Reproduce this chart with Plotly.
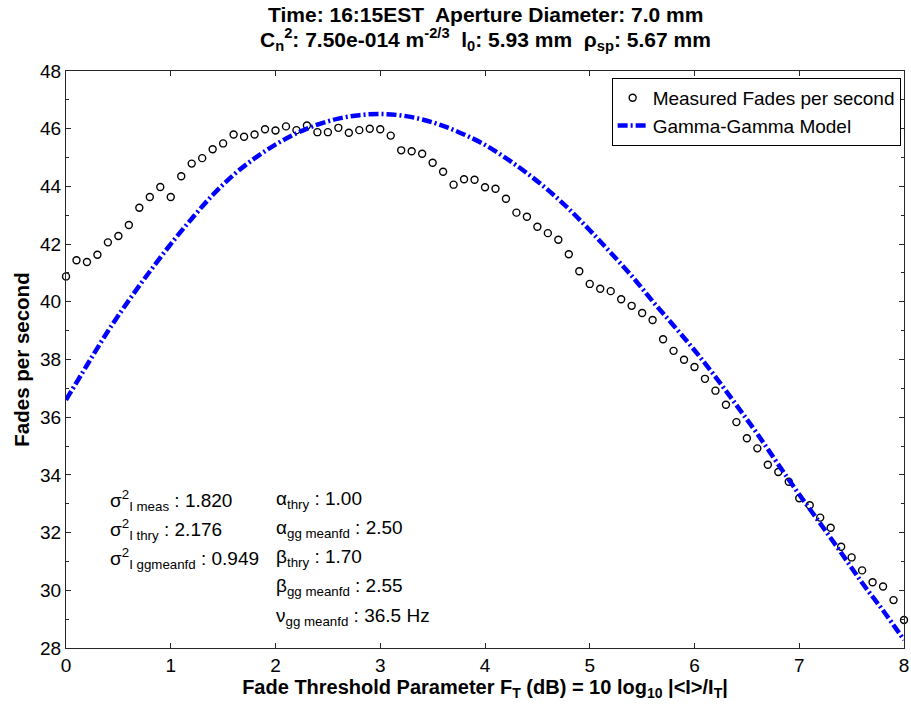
import plotly.graph_objects as go

# Measured fade rate, sampled every 0.1 dB of fade threshold
threshold_db = [round(0.1 * i, 1) for i in range(81)]
measured_fades = [
    40.88, 41.44, 41.38, 41.63, 42.06, 42.28, 42.66, 43.26, 43.63, 43.98,
    43.63, 44.35, 44.79, 44.98, 45.29, 45.49, 45.80, 45.72, 45.80, 45.98,
    45.94, 46.08, 45.95, 46.11, 45.88, 45.88, 46.03, 45.86, 45.95, 46.00,
    45.98, 45.76, 45.25, 45.22, 45.13, 44.82, 44.51, 44.06, 44.25, 44.23,
    43.97, 43.92, 43.57, 43.09, 42.95, 42.60, 42.38, 42.15, 41.65, 41.06,
    40.62, 40.45, 40.37, 40.09, 39.86, 39.61, 39.37, 38.70, 38.30, 37.99,
    37.74, 37.33, 36.92, 36.43, 35.83, 35.27, 34.92, 34.35, 34.10, 33.76,
    33.19, 32.95, 32.52, 32.17, 31.51, 31.14, 30.69, 30.28, 30.13, 29.66,
    28.97,
]

# Gamma-Gamma model curve, every 0.2 dB
model_db = [round(0.2 * i, 1) for i in range(41)]
model_fades = [
    36.60, 37.80, 38.98, 40.05, 41.05, 42.00, 42.88, 43.70, 44.40, 44.97,
    45.45, 45.84, 46.14, 46.35, 46.47, 46.51, 46.46, 46.32, 46.10, 45.80,
    45.44, 44.98, 44.46, 43.88, 43.22, 42.48, 41.70, 40.90, 40.02, 39.18,
    38.32, 37.40, 36.42, 35.42, 34.36, 33.32, 32.32, 31.30, 30.26, 29.30,
    28.28,
]

x_ticks = [0, 1, 2, 3, 4, 5, 6, 7, 8]
y_ticks = [28, 30, 32, 34, 36, 38, 40, 42, 44, 46, 48]

title_lines = [
    "Time: 16:15EST  Aperture Diameter: 7.0 mm",
    "C<sub>n</sub><sup>2</sup>: 7.50e-014 m<sup>-2/3</sup>  "
    "l<sub>0</sub>: 5.93 mm  ρ<sub>sp</sub>: 5.67 mm",
]

# Fit parameters shown in the lower-left corner
left_stats = [
    ("σ<sup>2</sup><sub>I meas</sub>", "1.820"),
    ("σ<sup>2</sup><sub>I thry</sub>", "2.176"),
    ("σ<sup>2</sup><sub>I ggmeanfd</sub>", "0.949"),
]
right_stats = [
    ("α<sub>thry</sub>", "1.00"),
    ("α<sub>gg meanfd</sub>", "2.50"),
    ("β<sub>thry</sub>", "1.70"),
    ("β<sub>gg meanfd</sub>", "2.55"),
    ("ν<sub>gg meanfd</sub>", "36.5 Hz"),
]

FONT = "Liberation Sans, Arial, Helvetica, sans-serif"
AXIS_COLOR = "#262626"

fig = go.Figure()

fig.add_trace(go.Scatter(
    x=threshold_db, y=measured_fades, mode="markers",
    name="Measured Fades per second", cliponaxis=False,
    marker=dict(symbol="circle-open", size=7, color="black",
                line=dict(width=1.4, color="black")),
))
fig.add_trace(go.Scatter(
    x=model_db, y=model_fades, mode="lines",
    name="Gamma-Gamma Model",
    line=dict(color="#0000ff", width=4.5, dash="10px,3px,2px,3px", shape="spline"),
))

# Helpers converting pixel rows of the page into paper coordinates
plot_top, plot_h = 71, 577
def paper_y(py):
    return 1 - (py - plot_top) / plot_h

# Two-line bold title
for text, py in zip(title_lines, [15, 39]):
    fig.add_annotation(x=0.5, y=paper_y(py), xref="paper", yref="paper",
                       text=f"<b>{text}</b>", showarrow=False,
                       xanchor="center", yanchor="middle",
                       font=dict(family=FONT, size=21, color="black"))

row_px = [500, 529, 558, 587, 617]
for (lab, val), py in zip(left_stats, row_px):
    fig.add_annotation(x=0.40, y=paper_y(py), xref="x", yref="paper",
                       text=f"{lab} : {val}", showarrow=False,
                       xanchor="left", yanchor="middle",
                       font=dict(family=FONT, size=19, color="black"))
for (lab, val), py in zip(right_stats, row_px):
    fig.add_annotation(x=1.99, y=paper_y(py), xref="x", yref="paper",
                       text=f"{lab} : {val}", showarrow=False,
                       xanchor="left", yanchor="middle",
                       font=dict(family=FONT, size=19, color="black"))

axis_common = dict(
    showline=True, linecolor=AXIS_COLOR, linewidth=1, mirror="ticks",
    ticks="inside", ticklen=5, tickcolor=AXIS_COLOR, showgrid=False,
    zeroline=False, ticklabeloverflow="allow",
    tickfont=dict(family=FONT, size=19, color="black"),
)

fig.update_layout(
    width=911, height=704,
    margin=dict(l=66, r=2, t=71, b=56),
    paper_bgcolor="white", plot_bgcolor="white",
    font=dict(family=FONT, color="black"),
    xaxis=dict(
        range=[0, 8], tickvals=x_ticks, ticktext=[str(v) for v in x_ticks],
        title=dict(text="<b>Fade Threshold Parameter F<sub>T</sub> (dB) = 10 log<sub>10</sub> |&lt;I&gt;/I<sub>T</sub>|</b>",
                   font=dict(family=FONT, size=20, color="black"), standoff=2),
        **axis_common,
    ),
    yaxis=dict(
        range=[28, 48], tickvals=y_ticks, ticktext=[str(v) for v in y_ticks],
        minor=dict(dtick=1, ticks="inside", ticklen=3, tickcolor=AXIS_COLOR),
        title=dict(text="<b>Fades per second</b>",
                   font=dict(family=FONT, size=20.5, color="black"), standoff=4),
        **axis_common,
    ),
    legend=dict(
        x=0.996, y=0.988, xanchor="right", yanchor="top",
        bgcolor="white", bordercolor="black", borderwidth=1,
        font=dict(family=FONT, size=19, color="black"),
        tracegroupgap=0, itemwidth=30,
    ),
    showlegend=True,
)

fig.write_html("out.html")
